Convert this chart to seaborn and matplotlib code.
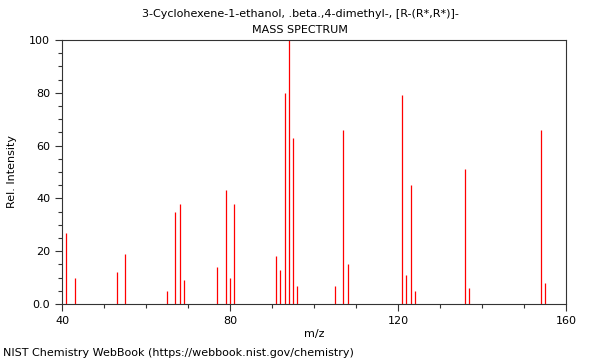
import matplotlib
matplotlib.use("Agg")
import matplotlib.pyplot as plt
from matplotlib.ticker import MultipleLocator
import seaborn as sns
import pandas as pd

mz = [41, 43, 53, 55, 65, 67, 68, 69, 77, 79, 80, 81, 91, 92, 93, 94, 95, 96,
      105, 107, 108, 121, 122, 123, 124, 136, 137, 154, 155]
intensity = [27, 10, 12, 19, 5, 35, 38, 9, 14, 43, 10, 38, 18, 13, 80, 100, 63, 7,
             7, 66, 15, 79, 11, 45, 5, 51, 6, 66, 8]
title_lines = ["3-Cyclohexene-1-ethanol, .beta.,4-dimethyl-, [R-(R*,R*)]-", "MASS SPECTRUM"]
x_ticks = [40, 80, 120, 160]
y_ticks = [0, 20, 40, 60, 80, 100]
y_tick_labels = ["0.0", "20", "40", "60", "80", "100"]

df = pd.DataFrame({"mz": mz, "intensity": intensity})

sns.set_style("ticks", {"text.color": "black", "xtick.color": "#333333",
                        "ytick.color": "#333333", "axes.labelcolor": "black"})
plt.rcParams['font.family'] = ['DejaVu Sans']

fig = plt.figure(figsize=(6, 3.6), dpi=100)
ax = fig.add_axes([62/600, 1 - 304/360, (566-62)/600, (304-40)/360])

ax.vlines(df["mz"], 0, df["intensity"], colors="#ff0000", linewidth=0.9)

ax.set_xlim(40, 160)
ax.set_ylim(0, 100)
ax.set_xticks(x_ticks)
ax.set_yticks(y_ticks)
ax.set_yticklabels(y_tick_labels)
ax.xaxis.set_minor_locator(MultipleLocator(10))
ax.yaxis.set_minor_locator(MultipleLocator(5))
ax.tick_params(axis="both", which="major", length=5, width=0.8, labelsize=8,
               color="#333333", labelcolor="black")
ax.tick_params(axis="both", which="minor", length=3, width=0.8, color="#333333")
for s in ax.spines.values():
    s.set_visible(True)
    s.set_color("#333333")
    s.set_linewidth(0.8)

ax.set_xlabel("m/z", fontsize=8, labelpad=2, color="black")
ax.set_ylabel("Rel. Intensity", fontsize=8, labelpad=9, color="black")

fig.text(0.5, 1 - 14/360, title_lines[0], ha="center", va="center", fontsize=8, color="black")
fig.text(0.5, 1 - 30/360, title_lines[1], ha="center", va="center", fontsize=8, color="black")
fig.text(3/600, 1 - 353/360, "NIST Chemistry WebBook (https://webbook.nist.gov/chemistry)",
         ha="left", va="center", fontsize=8, color="black")

fig.savefig("out.png", dpi=100)
